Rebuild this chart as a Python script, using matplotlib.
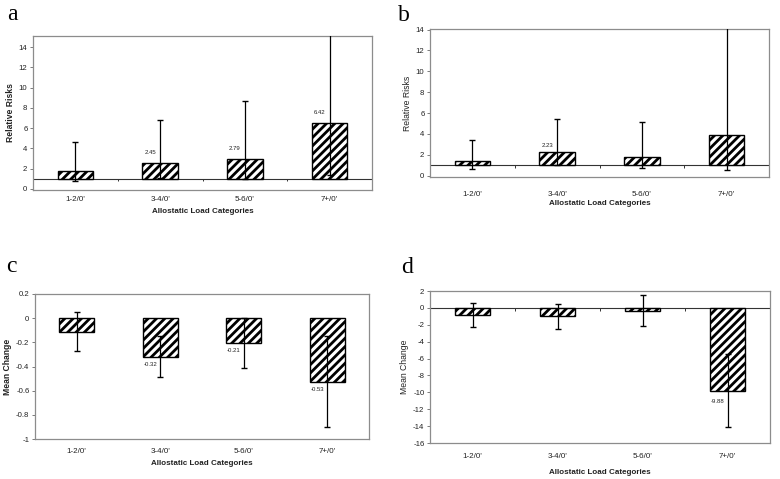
import matplotlib
matplotlib.use("Agg")
import matplotlib.pyplot as plt
import numpy as np

# Allostatic load categories shared by all four panels
categories = ["1-2/0'", "3-4/0'", "5-6/0'", "7+/0'"]

# a: relative risks
rr_a = [1.72, 2.52, 2.90, 6.48]
rr_a_lo = [0.76, 1.05, 1.0, 1.33]
rr_a_hi = [4.64, 6.82, 8.71, 17.0]
lab_a = ["", "2.45", "2.79", "6.42"]

# b: relative risks
rr_b = [1.42, 2.28, 1.80, 3.90]
rr_b_lo = [0.66, 1.05, 0.70, 0.57]
rr_b_hi = [3.40, 5.47, 5.10, 16.0]
lab_b = ["", "2.23", "", ""]

# c: mean change
mc_c = [-0.112, -0.32, -0.207, -0.525]
mc_c_lo = [-0.274, -0.489, -0.416, -0.902]
mc_c_hi = [0.05, -0.15, 0.0, -0.146]
lab_c = ["", "-0.32", "-0.21", "-0.53"]

# d: mean change
mc_d = [-0.85, -0.95, -0.35, -9.85]
mc_d_lo = [-2.28, -2.48, -2.16, -14.06]
mc_d_hi = [0.52, 0.47, 1.58, -5.47]
lab_d = ["", "", "", "-9.88"]

plt.rcParams["font.family"] = ["Liberation Sans", "DejaVu Sans"]
plt.rcParams["hatch.linewidth"] = 2.0

W, H = 780, 479
fig = plt.figure(figsize=(W / 100, H / 100), dpi=100)


def box(l, t, r, b):
    return [l / W, 1 - b / H, (r - l) / W, (b - t) / H]


def panel(rect, vals, lo, hi, labels, base, ylim, yticks, ylabel, ybold,
          lab_dy, tickpad, xlabpad, letter, letter_xy, base_line=True):
    ax = fig.add_axes(rect)
    x = np.arange(len(categories))
    vals = np.asarray(vals)
    ax.bar(x, vals - base, bottom=base, width=0.42, facecolor="white",
           edgecolor="black", hatch="////", linewidth=1.0, zorder=2)
    ax.errorbar(x, vals, yerr=[vals - np.asarray(lo), np.asarray(hi) - vals],
                fmt="none", ecolor="black", elinewidth=0.9, capsize=2.3,
                capthick=1.0, zorder=3)
    for xi, v, s in zip(x, vals, labels):
        if s:
            ax.annotate(s, (xi, v), xytext=(-7.2, lab_dy),
                        textcoords="offset points", ha="center",
                        va="center", fontsize=4.3, color="#222222")
    # category axis line at the baseline
    if base_line:
        ax.axhline(base, color="#333333", lw=0.8, zorder=1)
        span = (ylim[1] - ylim[0]) * 0.018
        ax.vlines(x[:-1] + 0.5, base - span, base, color="#333333", lw=0.7)
    ax.set_xlim(-0.5, len(categories) - 0.5)
    ax.set_ylim(*ylim)
    ax.set_yticks(yticks)
    ax.set_yticklabels([f"{v + 0.0:g}" for v in yticks])
    ax.set_xticks(x)
    ax.set_xticklabels(categories)
    ax.tick_params(axis="y", length=2, width=0.6, color="#666666",
                   labelsize=5.6, pad=2, labelcolor="#222222")
    ax.tick_params(axis="x", length=0, labelsize=5.8, pad=tickpad,
                   labelcolor="#222222")
    ax.set_xlabel("Allostatic Load Categories", fontsize=5.8,
                  fontweight="bold", labelpad=xlabpad, color="#222222")
    ax.set_ylabel(ylabel, fontsize=6.2,
                  fontweight="bold" if ybold else "normal", labelpad=3,
                  color="#222222")
    for sp in ax.spines.values():
        sp.set_color("#8c8c8c")
        sp.set_linewidth(0.9)
    fig.text(letter_xy[0] / W, 1 - letter_xy[1] / H, letter,
             family="Liberation Serif", fontsize=17, ha="left",
             va="baseline")
    return ax


panel(box(33, 36, 372, 190), rr_a, rr_a_lo, rr_a_hi, lab_a, 1,
      (-0.12, 15.1), np.arange(0, 15, 2), "Relative Risks", True,
      8, 4.5, 3.5, "a", (7, 20))
panel(box(430, 29, 769, 177), rr_b, rr_b_lo, rr_b_hi, lab_b, 1,
      (-0.12, 14.05), np.arange(0, 15, 2), "Relative Risks", False,
      4.5, 10, 1.5, "b", (398, 21))
panel(box(35, 294, 369, 439), mc_c, mc_c_lo, mc_c_hi, lab_c, 0,
      (-1, 0.2), np.round(np.arange(-1, 0.21, 0.2), 1), "Mean Change", True,
      -5.5, 6.5, 3.5, "c", (6, 272), base_line=False)
panel(box(430, 291, 770, 443), mc_d, mc_d_lo, mc_d_hi, lab_d, 0,
      (-16, 2), np.arange(-16, 3, 2), "Mean Change", False,
      -7.5, 7.5, 6.5, "d", (401, 273))

fig.savefig("out.png", dpi=100, facecolor="white")
